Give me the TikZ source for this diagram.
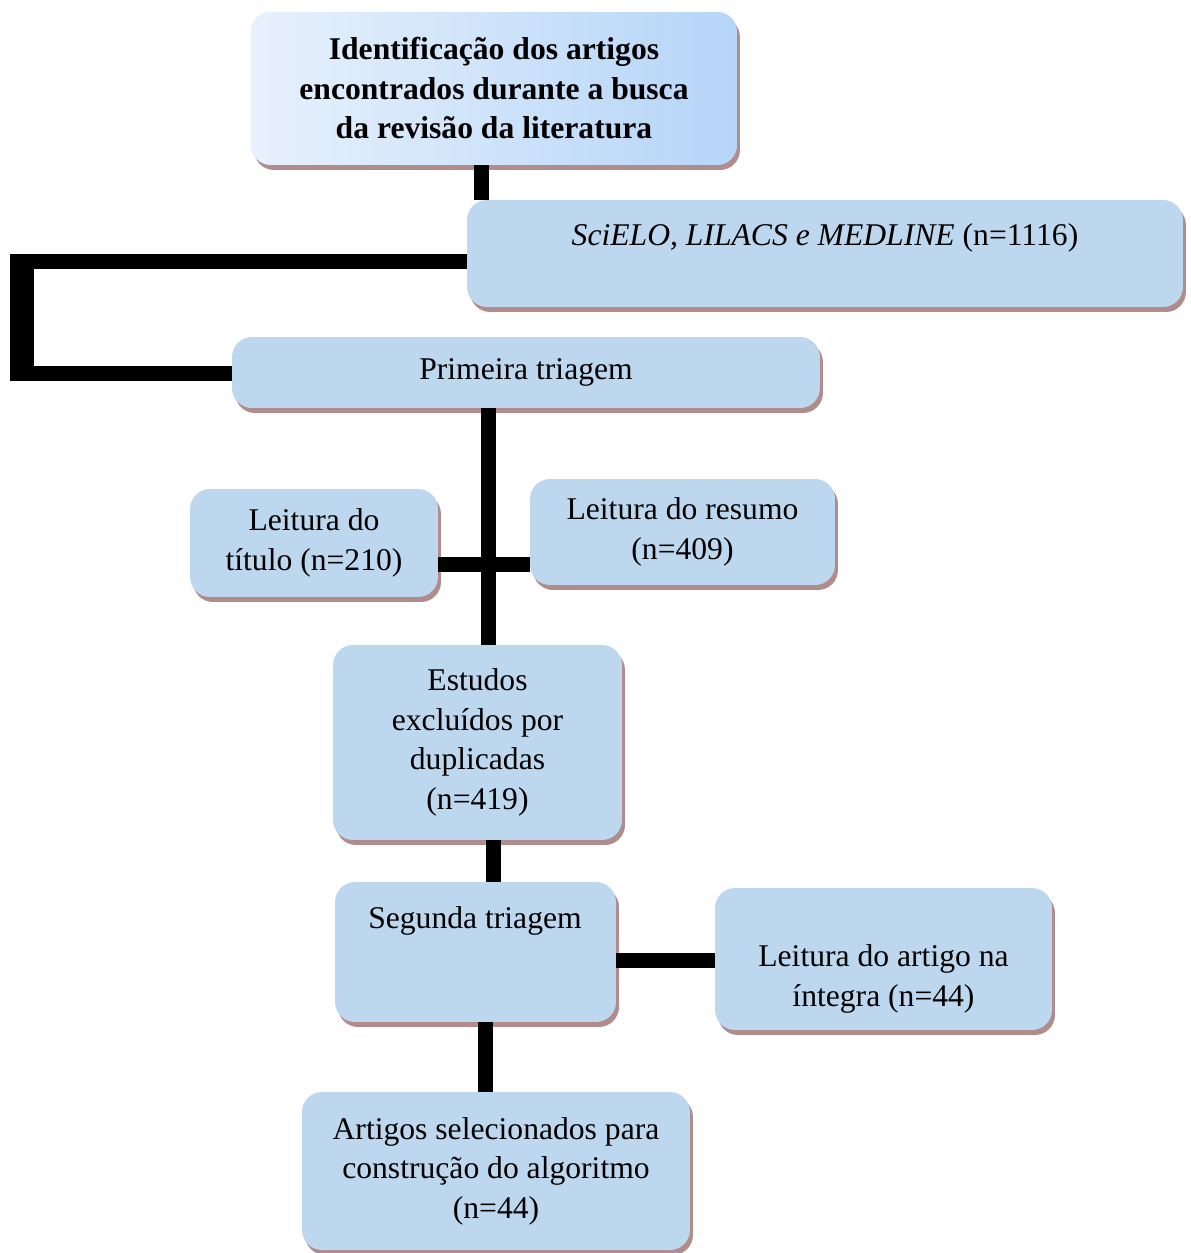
\documentclass[tikz,border=0pt]{standalone}
\usepackage{fontspec}
\setmainfont{Liberation Serif}
\usetikzlibrary{shadows}

\definecolor{azulcaixa}{HTML}{BDD7EE}
\definecolor{sombra}{HTML}{B08C8C}
\definecolor{gradesq}{HTML}{E8F1FC}
\definecolor{graddir}{HTML}{B5D5F8}

\tikzset{
    caixa/.style={fill=azulcaixa, rounded corners=0.4cm, inner sep=0pt,
        align=center, font=\fontsize{18}{22.5}\selectfont,
        drop shadow={shadow xshift=0.06cm, shadow yshift=-0.1cm, fill=sombra, opacity=1}},
    texto/.style={align=center, inner sep=0pt, font=\fontsize{18}{22.5}\selectfont},
    ligacao/.style={line width=0.3cm},
}

\begin{document}
\begin{tikzpicture}[x=0.02cm, y=-0.02cm]
        \useasboundingbox (0,0) rectangle (1190,1253);

        \node[caixa, left color=gradesq, right color=graddir, minimum width=9.72cm, minimum height=3.06cm] (ident) at (494,88.5)
            {\bfseries Identificação dos artigos\\\bfseries encontrados durante a busca\\\bfseries da revisão da literatura};

        \node[caixa, minimum width=14.32cm, minimum height=2.14cm] (scielo) at (825,253.5) {};
        \node[texto] (scielotxt) at (825,238) {\textit{SciELO, LILACS e MEDLINE} (n=1116)};

        \node[caixa, minimum width=11.76cm, minimum height=1.42cm] (primeira) at (526,372.5) {Primeira triagem};

        \node[caixa, minimum width=4.96cm, minimum height=2.16cm] (titulo) at (314,543) {Leitura do\\título (n=210)};
        \node[caixa, minimum width=6.10cm, minimum height=2.12cm] (resumo) at (682.5,532) {Leitura do resumo\\(n=409)};

        \node[caixa, minimum width=5.78cm, minimum height=3.90cm] (estudos) at (477.5,742.5)
            {Estudos\\excluídos por\\duplicadas\\(n=419)};

        \node[caixa, minimum width=5.62cm, minimum height=2.80cm] (segunda) at (475.5,952) {};
        \node[texto] (segundatxt) at (475,921) {Segunda triagem};

        \node[caixa, minimum width=6.74cm, minimum height=2.84cm] (artigo) at (883.5,959) {};
        \node[texto] (artigotxt) at (883.5,979) {Leitura do artigo na\\íntegra (n=44)};

        \node[caixa, minimum width=7.76cm, minimum height=3.16cm] (selecao) at (496,1171)
            {Artigos selecionados para\\construção do algoritmo\\(n=44)};

        % ligacoes
        \coordinate (cantosup) at (10,261.5);
        \coordinate (cantoinf) at (10,373.5);
        \coordinate (barrasup) at (22,254);
        \coordinate (barrainf) at (22,381);
        \coordinate (tronco) at (488.5,0);
        \coordinate (cruz) at (0,564.5);

        \draw[ligacao] ([xshift=-0.25cm]ident.south) -- ([xshift=-0.25cm]ident.south |- scielo.north);

        \draw[ligacao] (scielo.west |- cantosup) -- (cantosup);
        \draw[line width=0.48cm] (barrasup) -- (barrainf);
        \draw[ligacao] (cantoinf) -- (primeira.west |- cantoinf);

        \draw[ligacao] (primeira.south -| tronco) -- (estudos.north -| tronco);
        \draw[ligacao] (titulo.east |- cruz) -- (resumo.west |- cruz);

        \draw[ligacao] ([xshift=0.32cm]estudos.south) -- ([xshift=0.32cm]estudos.south |- segunda.north);
        \draw[ligacao] ([yshift=-0.17cm]segunda.east) -- ([yshift=-0.17cm]segunda.east -| artigo.west);
        \draw[ligacao] ([xshift=0.2cm]segunda.south) -- ([xshift=0.2cm]segunda.south |- selecao.north);

\end{tikzpicture}
\end{document}
